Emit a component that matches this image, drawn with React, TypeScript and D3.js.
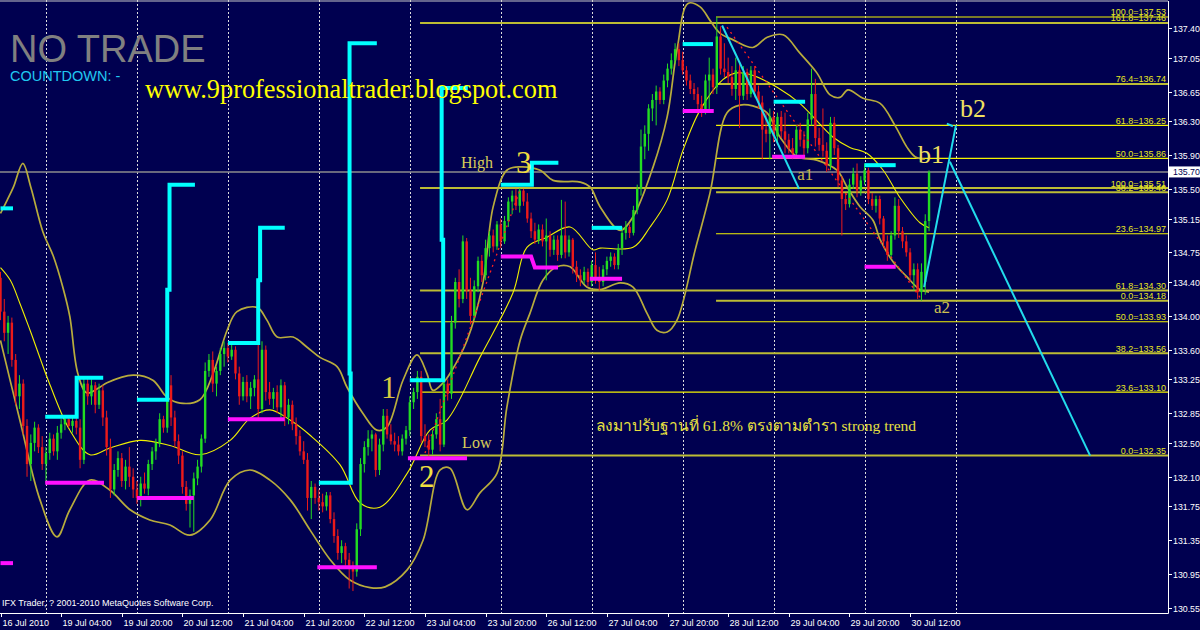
import React, { useEffect, useRef } from 'react';
import * as d3 from 'd3';

// ---- axis data ----
const PRICE_TICKS = [137.40, 137.05, 136.65, 136.30, 135.90, 135.50, 135.15, 134.75, 134.40, 134.00, 133.60, 133.25, 132.85, 132.50, 132.10, 131.75, 131.35, 130.95, 130.55];
const BID = 135.70;
const TIME_BARS = [0, 16, 32, 48, 64, 80, 96, 112, 128, 144, 160, 176, 192, 208, 224, 240];
const TIME_LABELS = ['16 Jul 2010', '19 Jul 04:00', '19 Jul 20:00', '20 Jul 12:00', '21 Jul 04:00', '21 Jul 20:00', '22 Jul 12:00', '23 Jul 04:00', '23 Jul 20:00', '26 Jul 12:00', '27 Jul 04:00', '27 Jul 20:00', '28 Jul 12:00', '29 Jul 04:00', '29 Jul 20:00', '30 Jul 12:00'];
const DAY_BARS = [12, 36, 60, 84, 108, 132, 156, 180, 204, 228, 252];

// ---- H1 candles [open, high, low, close] ----
const CANDLES: number[][] = [
  [134.45,134.52,133.95,134.05],[134.05,134.20,133.70,133.80],[133.80,134.00,133.55,133.92],[133.92,133.98,133.40,133.48],
  [133.48,133.55,132.95,133.05],[133.05,133.30,132.90,133.20],[133.20,133.25,132.60,132.70],[132.70,132.78,132.10,132.25],
  [132.25,132.60,132.05,132.50],[132.50,132.75,132.40,132.68],[132.68,132.72,132.38,132.45],[132.45,132.58,132.18,132.25],
  [132.25,132.45,132.03,132.38],[132.38,132.62,132.30,132.55],[132.55,132.60,132.35,132.40],[132.40,132.70,132.30,132.62],
  [132.62,132.78,132.55,132.72],[132.72,132.81,132.65,132.78],[132.78,132.80,132.68,132.70],[132.70,132.80,132.62,132.76],
  [132.76,132.85,132.60,132.68],[132.68,132.78,132.20,132.30],[132.30,133.28,132.25,133.20],[133.20,133.27,132.95,133.05],
  [133.05,133.25,132.95,133.18],[133.18,133.22,132.85,132.95],[132.95,133.20,132.90,133.12],[133.12,133.18,132.70,132.80],
  [132.80,132.88,132.35,132.45],[132.45,132.55,131.85,131.95],[131.95,132.25,131.88,132.18],[132.18,132.40,132.10,132.32],
  [132.32,132.38,131.98,132.05],[132.05,132.30,131.95,132.22],[132.22,132.45,131.98,132.10],[132.10,132.20,131.85,131.95],
  [131.95,132.05,131.78,131.85],[131.85,132.10,131.75,132.02],[132.02,132.15,131.90,131.96],[131.96,132.30,131.88,132.25],
  [132.25,132.45,132.18,132.40],[132.40,132.55,132.30,132.50],[132.50,132.85,132.45,132.78],[132.78,132.82,132.62,132.68],
  [132.68,133.25,132.62,133.18],[133.18,133.30,132.70,132.80],[132.80,132.88,132.45,132.52],[132.52,132.60,132.25,132.35],
  [132.35,132.40,131.90,131.98],[131.98,132.05,131.70,131.78],[131.78,131.95,131.50,131.88],[131.88,132.15,131.45,132.08],
  [132.08,132.30,132.00,132.22],[132.22,132.60,132.15,132.55],[132.55,133.45,132.50,133.35],[133.35,133.55,133.28,133.48],
  [133.48,133.58,133.10,133.20],[133.20,133.40,133.05,133.35],[133.35,133.62,133.30,133.55],[133.55,133.70,133.40,133.62],
  [133.62,133.68,133.45,133.52],[133.52,133.66,133.48,133.60],[133.60,133.64,133.25,133.32],[133.32,133.40,132.95,133.05],
  [133.05,133.28,133.00,133.22],[133.22,133.30,132.98,133.05],[133.05,133.22,132.90,133.15],[133.15,133.30,133.05,133.25],
  [133.25,133.75,132.78,132.90],[132.90,133.70,132.85,133.60],[133.60,133.65,133.00,133.10],[133.10,133.22,132.95,133.02],
  [133.02,133.15,132.90,133.10],[133.10,133.18,132.85,132.92],[132.92,133.25,132.80,133.18],[133.18,133.22,132.70,132.80],
  [132.80,133.02,132.72,132.95],[132.95,133.00,132.65,132.72],[132.72,132.80,132.48,132.58],[132.58,132.65,132.35,132.40],
  [132.40,132.52,132.25,132.30],[132.30,132.38,131.70,131.85],[131.85,132.05,131.60,131.98],[131.98,132.02,131.78,131.85],
  [131.85,131.95,131.70,131.80],[131.80,131.90,131.68,131.75],[131.75,131.92,131.70,131.88],[131.88,131.92,131.55,131.60],
  [131.60,131.68,131.32,131.40],[131.40,131.48,131.12,131.20],[131.20,131.35,131.08,131.28],[131.28,131.32,131.05,131.12],
  [131.12,131.20,130.78,131.05],[131.05,131.10,130.75,130.98],[130.98,131.55,130.92,131.48],[131.48,132.32,131.40,132.25],
  [132.25,132.52,132.15,132.45],[132.45,132.65,132.35,132.55],[132.55,132.65,132.40,132.60],[132.60,132.62,132.10,132.18],
  [132.18,132.55,132.12,132.48],[132.48,132.90,132.40,132.82],[132.82,132.90,132.55,132.60],[132.60,132.72,132.48,132.52],
  [132.52,132.62,132.40,132.48],[132.48,132.58,132.35,132.40],[132.40,132.60,132.35,132.55],[132.55,132.70,132.48,132.65],
  [132.65,133.05,132.58,132.98],[132.98,133.15,132.90,133.10],[133.10,133.35,133.02,133.28],[133.28,133.35,132.50,132.58],
  [132.58,132.72,132.45,132.52],[132.52,132.60,132.35,132.42],[132.42,132.65,132.36,132.60],[132.60,132.85,132.55,132.78],
  [132.78,133.02,132.40,132.48],[132.48,133.30,132.45,133.20],[133.20,133.25,133.00,133.08],[133.08,134.00,133.02,133.92],
  [133.92,134.45,133.85,134.40],[134.40,134.55,134.10,134.20],[134.20,134.95,134.15,134.88],[134.88,134.92,134.20,134.30],
  [134.30,134.45,133.90,134.00],[134.00,134.42,133.95,134.35],[134.35,134.70,134.28,134.65],[134.65,134.72,134.40,134.48],
  [134.48,134.90,134.42,134.80],[134.80,135.00,134.70,134.95],[134.95,135.02,134.75,134.82],[134.82,135.12,134.78,135.08],
  [135.08,135.15,134.80,134.88],[134.88,135.18,134.85,135.12],[135.12,135.40,135.05,135.35],[135.35,135.48,135.20,135.42],
  [135.42,135.50,135.25,135.30],[135.30,135.51,135.22,135.48],[135.48,135.50,135.30,135.35],[135.35,135.45,135.10,135.15],
  [135.15,135.22,134.92,135.00],[135.00,135.10,134.85,134.90],[134.90,135.08,134.85,135.02],[135.02,135.08,134.82,134.88],
  [134.88,135.15,134.42,134.95],[134.95,135.00,134.70,134.78],[134.78,134.95,134.72,134.90],[134.90,134.95,134.65,134.72],
  [134.72,135.37,134.68,134.95],[134.95,135.35,134.68,134.75],[134.75,134.95,134.70,134.90],[134.90,134.92,134.50,134.58],
  [134.58,134.65,134.40,134.48],[134.48,134.55,134.35,134.42],[134.42,134.58,134.38,134.52],[134.52,134.56,134.35,134.40],
  [134.40,134.65,134.35,134.60],[134.60,134.75,134.38,134.45],[134.45,134.58,134.30,134.40],[134.40,134.60,134.35,134.55],
  [134.55,134.70,134.48,134.65],[134.65,134.75,134.58,134.70],[134.70,134.74,134.55,134.60],[134.60,134.85,134.55,134.80],
  [134.80,135.05,134.72,134.98],[134.98,135.12,134.90,135.05],[135.05,135.08,134.92,134.98],[134.98,135.30,134.95,135.25],
  [135.25,135.55,135.20,135.50],[135.50,136.20,135.42,136.00],[136.00,136.25,135.85,136.15],[136.15,136.50,135.95,136.45],
  [136.45,136.62,136.30,136.55],[136.55,136.72,136.25,136.65],[136.65,136.70,136.50,136.55],[136.55,136.85,136.50,136.78],
  [136.78,136.98,136.70,136.92],[136.92,137.10,136.85,137.02],[137.02,137.22,136.98,137.15],[137.15,137.22,136.95,137.02],
  [137.02,137.12,136.85,136.90],[136.90,136.95,136.72,136.78],[136.78,136.85,136.62,136.68],[136.68,136.75,136.55,136.62],
  [136.62,136.70,136.42,136.50],[136.50,136.60,136.35,136.42],[136.42,136.85,136.38,136.78],[136.78,137.05,136.40,136.85],
  [136.85,136.92,136.62,136.70],[136.70,137.53,136.62,137.30],[137.30,137.42,136.85,136.92],[136.92,137.22,136.82,136.88],
  [136.88,137.05,136.75,136.82],[136.82,136.95,136.60,136.68],[136.68,137.05,136.55,136.90],[136.90,137.00,136.22,136.60],
  [136.60,136.95,136.55,136.88],[136.88,136.92,136.55,136.62],[136.62,136.95,136.58,136.90],[136.90,136.95,136.58,136.65],
  [136.65,136.72,136.45,136.52],[136.52,136.60,135.85,136.20],[136.20,136.40,136.05,136.15],[136.15,136.45,135.85,136.35],
  [136.35,136.42,136.05,136.12],[136.12,136.40,136.05,136.35],[136.35,136.42,136.10,136.18],[136.18,136.40,135.92,136.08],
  [136.08,136.15,135.92,135.98],[135.98,136.10,135.85,135.92],[135.92,136.25,135.88,136.20],[136.20,136.28,136.00,136.08],
  [136.08,136.18,135.90,135.98],[135.98,136.40,135.92,136.32],[136.32,136.92,136.25,136.62],[136.62,136.80,136.00,136.10],
  [136.10,136.22,135.95,136.02],[136.02,136.45,135.88,135.95],[135.95,136.05,135.70,135.78],[135.78,136.35,135.72,136.28],
  [136.28,136.35,135.90,135.98],[135.98,136.02,135.52,135.60],[135.60,135.65,134.95,135.38],[135.38,135.45,135.25,135.32],
  [135.32,135.62,135.28,135.55],[135.55,135.75,135.50,135.68],[135.68,135.80,135.40,135.48],[135.48,135.65,135.42,135.60],
  [135.60,135.80,135.55,135.72],[135.72,135.75,135.32,135.38],[135.38,135.45,135.25,135.30],[135.30,135.42,135.22,135.38],
  [135.38,135.42,135.08,135.15],[135.15,135.18,134.82,134.88],[134.88,134.95,134.65,134.72],[134.72,135.00,134.68,134.95],
  [134.95,135.40,134.90,135.30],[135.30,135.38,134.92,135.00],[135.00,135.05,134.80,134.88],[134.88,134.95,134.70,134.75],
  [134.75,134.80,134.40,134.48],[134.48,134.62,134.30,134.55],[134.55,134.62,134.20,134.28],[134.28,134.62,134.18,134.52],
  [134.40,135.20,134.25,135.12],[135.12,135.72,135.00,135.70],
];

// ---- envelope lines [bar, price] ----
const BAND_UPPER = [[0,135.21],[1.8,135.37],[3.4,135.52],[5.9,135.80],[8.0,135.52],[11.2,134.99],[13.9,134.71],[16.5,134.33],[18.3,133.99],[20.4,133.32],[22.8,133.09],[26.3,133.16],[28.1,133.21],[35.0,133.30],[40.2,133.24],[43.9,133.04],[47.4,132.97],[52.6,133.01],[56.1,133.32],[59.8,133.83],[62.4,134.05],[67.7,134.10],[70.3,133.95],[73.0,133.75],[77.2,133.75],[80.9,133.63],[84.3,133.51],[88.8,133.40],[91.4,133.16],[95.6,132.85],[99.3,132.65],[102.0,132.69],[106.2,133.24],[109.9,133.54],[112.5,133.32],[114.1,133.12],[116.8,133.21],[118.6,133.32],[123.1,133.71],[127.3,134.39],[130.0,135.29],[133.6,135.72],[137.1,135.76],[142.4,135.72],[145.8,135.60],[153.0,135.58],[155.6,135.52],[158.2,135.29],[163.5,135.01],[166.9,135.17],[172.2,135.76],[175.9,136.35],[178.5,137.14],[181.4,137.69],[184.6,137.65],[187.2,137.49],[189.8,137.34],[193.3,137.26],[198.5,137.17],[202.3,137.29],[206.5,137.32],[211.0,137.10],[215.4,136.87],[218.9,136.61],[221.5,136.58],[223.6,136.67],[227.6,136.57],[232.1,136.51],[236.0,136.25],[239.2,135.99],[241.3,135.88],[243.9,135.85]];
const BAND_MIDDLE = [[0,134.57],[2.6,134.42],[5.1,134.15],[7.8,133.83],[13.1,133.18],[18.3,132.65],[23.6,132.36],[28.9,132.44],[36.8,132.53],[44.7,132.47],[52.6,132.36],[60.6,132.53],[65.8,132.79],[71.1,132.89],[76.4,132.77],[81.7,132.59],[89.6,132.24],[94.9,131.79],[100.1,131.74],[107.3,132.14],[113.3,132.65],[117.8,132.77],[126.5,133.51],[135.2,134.27],[138.9,134.81],[144.2,134.93],[150.3,135.05],[156.3,134.78],[158.2,134.80],[166.9,134.81],[171.4,135.05],[175.9,135.37],[180.1,135.96],[184.6,136.43],[190.6,136.79],[194.3,136.87],[198.6,136.84],[204.9,136.70],[210.9,136.51],[219.7,136.11],[224.1,135.99],[228.6,135.92],[232.9,135.72],[237.3,135.40],[242.6,135.10],[245.0,135.04]];
const BAND_LOWER = [[0,133.71],[5.1,132.77],[10.4,131.83],[14.9,131.39],[18.3,131.71],[23.6,132.06],[28.9,131.94],[34.2,131.71],[39.4,131.59],[44.7,131.53],[50.0,131.41],[55.3,131.59],[60.6,132.06],[65.8,132.18],[71.1,132.06],[76.4,131.83],[81.7,131.47],[87.0,131.12],[92.2,130.88],[97.5,130.79],[101.5,130.80],[107.3,131.00],[111.5,131.35],[116.0,132.18],[118.6,132.20],[123.1,131.71],[126.5,131.91],[131.0,132.14],[133.6,132.92],[137.1,133.71],[139.7,134.03],[143.1,134.42],[146.8,134.58],[150.3,134.58],[154.7,134.34],[158.2,134.31],[163.5,134.39],[166.9,134.34],[170.6,134.03],[173.2,133.83],[175.9,133.81],[178.5,133.95],[183.3,134.78],[187.2,135.45],[191.7,136.40],[195.1,136.49],[198.5,136.48],[202.2,136.40],[205.7,136.11],[210.2,135.88],[215.4,135.84],[220.7,135.72],[223.4,135.52],[226.8,135.29],[230.2,135.13],[232.1,134.90],[235.5,134.64],[239.2,134.46],[242.6,134.31],[245.0,134.28]];

// ---- daily session steps (cyan highs, magenta lows) [bar, price] ----
const CYAN_STEPS = [
  [[0,135.27],[3.3,135.27]],
  [[11.8,132.81],[20.1,132.81],[20.1,133.27],[27.1,133.27]],
  [[36,133.01],[44,133.01],[44,134.31],[44.6,134.31],[44.6,135.55],[51.3,135.55]],
  [[60,133.68],[68,133.68],[68,134.42],[68.5,134.42],[68.5,135.04],[75,135.04]],
  [[84,132.03],[92.4,132.03],[92.4,133.32],[92.1,133.32],[92.1,137.22],[99.3,137.22]],
  [[108,133.24],[116.8,133.24],[116.8,134.90],[116.4,134.90],[116.4,136.69],[123.3,136.69]],
  [[132,135.55],[140.2,135.55],[140.2,135.81],[147.2,135.81]],
  [[156,135.04],[164,135.04]],
  [[180,137.21],[188,137.21]],
  [[204,136.53],[212.3,136.53]],
  [[228,135.78],[236.2,135.78]],
];
const MAGENTA_STEPS = [
  [[0,131.08],[3.3,131.08]],
  [[11.8,132.03],[27.3,132.03]],
  [[36,131.85],[51,131.85]],
  [[60,132.78],[75,132.78]],
  [[83.6,131.03],[99.3,131.03]],
  [[107.5,132.32],[123.1,132.32]],
  [[132,134.70],[140,134.70],[141,134.57],[147.1,134.57]],
  [[155.5,134.44],[164,134.44]],
  [[180,136.42],[188.2,136.42]],
  [[203.6,135.88],[212.3,135.88]],
  [[228,134.58],[236.2,134.58]],
];

// ---- wave projection lines ----
const PROJ_LINES = [
  [[190.4,137.43],[210.7,135.50]],
  [[243.7,134.34],[252.1,136.25]],
  [[250.5,135.82],[287.5,132.35]],
  [[249.7,136.27],[251.3,136.24]],
];
const TREND_DOTS = [
  [[112,132.38],[137.1,135.49]],
  [[191.7,137.41],[242.6,134.22]],
];

// ---- fibonacci retracements ----
const FIB_A_LEVELS = ['0.0', '23.6', '38.2', '50.0', '61.8', '100.0', '161.8'];
const FIB_A_PRICES = [132.35, 133.10, 133.56, 133.93, 134.30, 135.51, 137.46];
const FIB_A_FROM = 110.7;
const FIB_B_LEVELS = ['0.0', '23.6', '38.2', '50.0', '61.8', '76.4', '100.0'];
const FIB_B_PRICES = [134.18, 134.97, 135.46, 135.86, 136.25, 136.74, 137.53];
const FIB_B_FROM = 188.8;
const FIB_A_DIM = [true, false, true, false, true, true, true];
const FIB_B_DIM = [true, false, true, false, false, true, false];

// ---- wave annotations [text, bar, price] ----
const NOTES = [
  { t: 'High', bar: 121.5, p: 135.75, size: 16, c: '#d8cc58' },
  { t: 'Low', bar: 121.8, p: 132.44, size: 16, c: '#d8cc58' },
  { t: '3', bar: 136.0, p: 135.69, size: 31, c: '#eedc40' },
  { t: '1', bar: 100.4, p: 133.03, size: 31, c: '#d8c840' },
  { t: '2', bar: 110.4, p: 131.98, size: 31, c: '#f0e040' },
  { t: 'a1', bar: 210.2, p: 135.60, size: 17, c: '#c8b848' },
  { t: 'b1', bar: 242.1, p: 135.80, size: 26, c: '#f0e060' },
  { t: 'b2', bar: 253.2, p: 136.35, size: 26, c: '#f0e060' },
  { t: 'a2', bar: 246.3, p: 134.03, size: 17, c: '#d0c050' },
  { t: 'ลงมาปรับฐานที่ 61.8% ตรงตามตำรา strong trend', bar: 157.1, p: 132.64, size: 15.5, c: '#e8e040' },
];

const BG = '#000050';
const PLOT_R = 1168;
const PLOT_B = 613;
const SANS = 'Liberation Sans, Arial, sans-serif';
const SERIF = 'Liberation Serif, Times New Roman, serif';

const App: React.FC = () => {
  const svgRef = useRef<SVGSVGElement>(null);

  useEffect(() => {
    if (!svgRef.current) return;
    const svg = d3.select(svgRef.current);
    svg.selectAll('*').remove();

    const x = d3.scaleLinear().domain([0, 308]).range([0.5, 1167.8]);
    const y = d3.scaleLinear().domain([130.55, 137.40]).range([608, 28]);

    svg.append('rect').attr('width', 1200).attr('height', 630).attr('fill', BG);

    svg.append('defs').append('clipPath').attr('id', 'plot-clip')
      .append('rect').attr('x', 0).attr('y', 0).attr('width', PLOT_R).attr('height', PLOT_B);

    const g = svg.append('g').attr('clip-path', 'url(#plot-clip)');

    // day separators
    g.selectAll('line.day')
      .data(DAY_BARS)
      .join('line')
      .attr('class', 'day')
      .attr('x1', d => Math.round(x(d)) + 0.5)
      .attr('x2', d => Math.round(x(d)) + 0.5)
      .attr('y1', 0)
      .attr('y2', PLOT_B)
      .attr('stroke', '#dcdcdc')
      .attr('stroke-width', 1)
      .attr('stroke-dasharray', '2 2');

    // bid line
    g.append('line')
      .attr('x1', 0).attr('x2', PLOT_R)
      .attr('y1', y(BID)).attr('y2', y(BID))
      .attr('stroke', '#8c8c8c').attr('stroke-width', 1.6);

    // fibonacci levels
    const drawFib = (prices: number[], dim: boolean[], from: number) => {
      prices.forEach((p, i) => {
        g.append('line')
          .attr('x1', x(from)).attr('x2', PLOT_R)
          .attr('y1', y(p)).attr('y2', y(p))
          .attr('stroke', dim[i] ? '#bcbc34' : '#f4f400')
          .attr('stroke-width', dim[i] ? 2 : 1.1);
      });
    };
    drawFib(FIB_A_PRICES, FIB_A_DIM, FIB_A_FROM);
    drawFib(FIB_B_PRICES, FIB_B_DIM, FIB_B_FROM);

    // bands
    const band = d3.line<number[]>()
      .curve(d3.curveCatmullRom.alpha(0.5))
      .x(d => x(d[0]))
      .y(d => y(d[1]));
    g.append('path').datum(BAND_UPPER).attr('d', band)
      .attr('fill', 'none').attr('stroke', '#b8ac3c').attr('stroke-width', 1.7);
    g.append('path').datum(BAND_MIDDLE).attr('d', band)
      .attr('fill', 'none').attr('stroke', '#f0f000').attr('stroke-width', 1.1);
    g.append('path').datum(BAND_LOWER).attr('d', band)
      .attr('fill', 'none').attr('stroke', '#b8ac3c').attr('stroke-width', 1.7);

    // candles
    const bw = 2.4;
    const cg = g.append('g');
    CANDLES.forEach((c, i) => {
      const [o, h, l, cl] = c;
      const col = cl >= o ? '#22dc22' : '#ec1a1a';
      const cx = x(i);
      cg.append('line')
        .attr('x1', cx).attr('x2', cx)
        .attr('y1', y(h)).attr('y2', y(l))
        .attr('stroke', col).attr('stroke-width', 1);
      const top = y(Math.max(o, cl));
      const bot = y(Math.min(o, cl));
      cg.append('rect')
        .attr('x', cx - bw / 2).attr('y', top)
        .attr('width', bw).attr('height', Math.max(1, bot - top))
        .attr('fill', col);
    });

    // trend dotted lines
    const straight = d3.line<number[]>().x(d => x(d[0])).y(d => y(d[1]));
    TREND_DOTS.forEach(seg => {
      g.append('path').datum(seg).attr('d', straight)
        .attr('fill', 'none').attr('stroke', '#ff2020').attr('stroke-width', 1.3)
        .attr('stroke-dasharray', '2 4');
    });

    // session steps
    MAGENTA_STEPS.forEach(seg => {
      g.append('path').datum(seg).attr('d', straight)
        .attr('fill', 'none').attr('stroke', '#ff10ff').attr('stroke-width', 4);
    });
    CYAN_STEPS.forEach(seg => {
      g.append('path').datum(seg).attr('d', straight)
        .attr('fill', 'none').attr('stroke', '#00ffff').attr('stroke-width', 4);
    });

    // projection lines
    PROJ_LINES.forEach(seg => {
      g.append('path').datum(seg).attr('d', straight)
        .attr('fill', 'none').attr('stroke', '#22dcec').attr('stroke-width', 2);
    });

    // fib labels
    const fibLabels = (levels: string[], prices: number[]) => {
      levels.forEach((lv, i) => {
        svg.append('text')
          .attr('x', 1166).attr('y', y(prices[i]) - 1.5)
          .attr('text-anchor', 'end')
          .attr('font-family', SANS)
          .attr('font-size', 9)
          .attr('fill', '#e8e820')
          .text(`${lv}=${prices[i].toFixed(2)}`);
      });
    };
    fibLabels(FIB_A_LEVELS, FIB_A_PRICES);
    fibLabels(FIB_B_LEVELS, FIB_B_PRICES);

    // annotations
    NOTES.forEach(n => {
      g.append('text')
        .attr('x', x(n.bar)).attr('y', y(n.p))
        .attr('font-family', SERIF)
        .attr('font-size', n.size)
        .attr('fill', n.c)
        .text(n.t);
    });

    // frame
    svg.append('line').attr('x1', 0).attr('x2', PLOT_R).attr('y1', 1).attr('y2', 1)
      .attr('stroke', '#c8c8c8').attr('stroke-width', 1);
    svg.append('line').attr('x1', 0).attr('x2', PLOT_R + 0.5).attr('y1', PLOT_B + 0.5).attr('y2', PLOT_B + 0.5)
      .attr('stroke', '#ffffff').attr('stroke-width', 1);
    svg.append('line').attr('x1', PLOT_R + 0.5).attr('x2', PLOT_R + 0.5).attr('y1', 1).attr('y2', PLOT_B + 0.5)
      .attr('stroke', '#ffffff').attr('stroke-width', 1);

    // price axis
    PRICE_TICKS.forEach(p => {
      const yy = Math.round(y(p)) + 0.5;
      svg.append('line').attr('x1', PLOT_R + 1).attr('x2', PLOT_R + 4).attr('y1', yy).attr('y2', yy)
        .attr('stroke', '#ffffff');
      svg.append('text').attr('x', 1173).attr('y', yy + 3.5)
        .attr('font-family', SANS).attr('font-size', 8.8)
        .attr('fill', '#ffffff').text(p.toFixed(2));
    });
    svg.append('rect').attr('x', 1169).attr('y', y(BID) - 5.5).attr('width', 31).attr('height', 11)
      .attr('fill', '#ffffff');
    svg.append('text').attr('x', 1173).attr('y', y(BID) + 3.5)
      .attr('font-family', SANS).attr('font-size', 8.8)
      .attr('fill', '#000050').text(BID.toFixed(2));

    // time axis
    TIME_BARS.forEach((b, i) => {
      const xx = Math.round(x(b)) + 0.5;
      svg.append('line').attr('x1', xx).attr('x2', xx).attr('y1', PLOT_B).attr('y2', PLOT_B + 4)
        .attr('stroke', '#ffffff');
      svg.append('text').attr('x', xx + 1).attr('y', 626)
        .attr('font-family', SANS).attr('font-size', 9)
        .attr('fill', '#ffffff').text(TIME_LABELS[i]);
    });

    // screen labels
    svg.append('text').attr('x', 10).attr('y', 62)
      .attr('font-family', SANS).attr('font-size', 38)
      .attr('fill', '#808080').text('NO TRADE');
    svg.append('text').attr('x', 10).attr('y', 81)
      .attr('font-family', SANS).attr('font-size', 14.5)
      .attr('fill', '#20c8f0').text('COUNTDOWN: -');
    svg.append('text').attr('x', 145).attr('y', 98)
      .attr('font-family', SERIF).attr('font-size', 26.3)
      .attr('fill', '#ffff00').text('www.9professionaltrader.blogspot.com');
    svg.append('text').attr('x', 2).attr('y', 606)
      .attr('font-family', SANS).attr('font-size', 9)
      .attr('fill', '#ffffff').text('IFX Trader, ? 2001-2010 MetaQuotes Software Corp.');
  }, []);

  return (
    <div style={{ position: 'absolute', left: 0, top: 0, width: 1200, height: 630, background: BG, overflow: 'hidden' }}>
      <svg ref={svgRef} width={1200} height={630} style={{ display: 'block' }} />
    </div>
  );
};

export default App;
